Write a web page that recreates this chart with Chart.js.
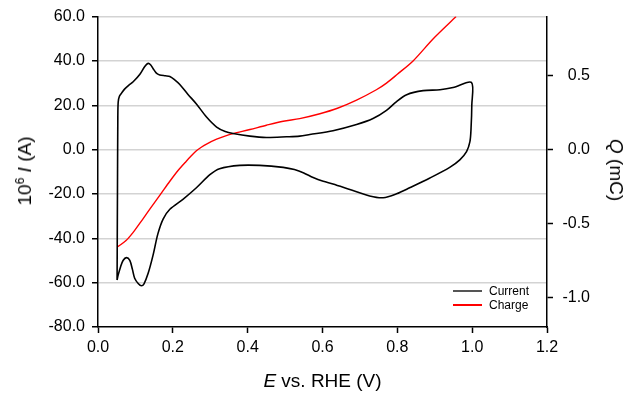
<!DOCTYPE html>
<html lang="en">
<head>
    <meta charset="UTF-8">
    <title>Cyclic voltammogram - current and charge</title>
    <style>
        body {
            margin: 0;
            padding: 0;
            background: #fff;
            font-family: 'Liberation Sans', Arial, sans-serif;
            color: #000;
        }
        .wrap {
            position: relative;
            width: 636px;
            height: 396px;
        }
        .title {
            position: absolute;
            font-size: 19px;
            line-height: 22px;
            white-space: nowrap;
        }
        .title sup {
            font-size: 12px;
            vertical-align: 7px;
            line-height: 0;
        }
        #xTitle {
            left: 98px;
            width: 449px;
            top: 370px;
            text-align: center;
        }
        #yTitle {
            left: 25px;
            top: 171px;
            transform: translate(-50%, -50%) rotate(-90deg);
        }
        #y2Title {
            left: 616px;
            top: 170px;
            transform: translate(-50%, -50%) rotate(90deg);
        }
        #legend {
            position: absolute;
            left: 453px;
            top: 284px;
            font-size: 12px;
            line-height: 14px;
        }
        .legend-row {
            display: flex;
            align-items: center;
        }
        .legend-line {
            display: inline-block;
            width: 29px;
            height: 1.5px;
            margin-right: 7px;
        }
    </style>
    <script src="https://cdn.jsdelivr.net/npm/chart.js"></script>
</head>
<body>
    <div class="wrap">
        <canvas id="cvChart" width="636" height="396"></canvas>
        <div class="title" id="xTitle"><i>E</i> vs. RHE (V)</div>
        <div class="title" id="yTitle">10<sup>6</sup> <i>I</i> (A)</div>
        <div class="title" id="y2Title"><i>Q</i> (mC)</div>
        <div id="legend"></div>
    </div>

    <script>
        // Current (black, left axis), one full cycle starting at the lower vertex
        const currentE = [0.051, 0.052, 0.053, 0.054, 0.057, 0.063, 0.071, 0.082, 0.094, 0.112, 0.125, 0.134,
            0.141, 0.147, 0.156, 0.165, 0.180, 0.192, 0.205, 0.218, 0.240, 0.263, 0.290, 0.317, 0.340,
            0.361, 0.406, 0.450, 0.504, 0.539, 0.566, 0.628, 0.691, 0.735, 0.771, 0.798, 0.825, 0.869,
            0.914, 0.949, 0.998,
            0.999, 0.997, 0.994, 0.985, 0.967, 0.940, 0.887, 0.833, 0.798, 0.762, 0.726, 0.673, 0.628,
            0.602, 0.575, 0.550, 0.525, 0.495, 0.432, 0.379, 0.325, 0.299, 0.263, 0.227, 0.192, 0.174,
            0.160, 0.147, 0.134, 0.123, 0.116, 0.108, 0.098, 0.092, 0.085, 0.076, 0.067, 0.060, 0.054, 0.051];
        const currentI = [-58.8, -20, 15, 21.5, 24, 25.5, 27.3, 29, 30.6, 34, 37.5, 38.9,
            38.2, 36.6, 34.5, 33.7, 33.3, 33, 31.5, 29.5, 25, 20.6, 14.7, 10.2, 8.2,
            7.3, 6.1, 5.5, 5.8, 6.1, 6.8, 8.5, 11.3, 14, 17.7, 21.7, 24.8, 26.6,
            27, 28, 30.3,
            20, 9.5, 3.6, -0.9, -4.6, -8, -12.8, -17.2, -19.9, -21.7, -20.9, -18, -15.5,
            -14.3, -12.6, -10.5, -9.0, -8, -7.1, -7.1, -8.6, -11.3, -17.2, -22.4, -26.9, -31.3,
            -38, -47.7, -55.8, -60.5, -61.4, -60.5, -58, -54, -50, -48.7, -50, -53, -56.5, -58.8];

        // Charge (red, right axis)
        const chargeE = [0.0535, 0.075, 0.094, 0.115, 0.138, 0.165, 0.192, 0.215, 0.236, 0.250, 0.263, 0.277,
            0.290, 0.317, 0.343, 0.361, 0.406, 0.450, 0.495, 0.539, 0.593, 0.640, 0.691, 0.744, 0.771,
            0.800, 0.842, 0.896, 0.957];
        const chargeQ = [-0.656, -0.615, -0.56, -0.487, -0.404, -0.31, -0.214, -0.138, -0.078, -0.040, -0.008, 0.018,
            0.038, 0.071, 0.095, 0.108, 0.136, 0.165, 0.192, 0.21, 0.243, 0.28, 0.335, 0.405, 0.45,
            0.51, 0.60, 0.75, 0.90];

        const xTicks = [0, 0.2, 0.4, 0.6, 0.8, 1.0, 1.2];
        const yTicks = [-80, -60, -40, -20, 0, 20, 40, 60];
        const y2Ticks = [-1.0, -0.5, 0.0, 0.5];

        const seriesNames = ['Current', 'Charge'];
        const seriesColors = ['#000000', '#ff0000'];
        const legendColors = ['#555555', '#ff0000'];

        const toPoints = (xs, ys) => xs.map((x, i) => ({ x: x, y: ys[i] }));

        const tickFont = { family: "'Liberation Sans', Arial, sans-serif", size: 16 };
        const fixTicks = list => scale => { scale.ticks = list.map(v => ({ value: v })); };

        const ctx = document.getElementById('cvChart').getContext('2d');
        const cvChart = new Chart(ctx, {
            type: 'scatter',
            data: {
                datasets: [{
                    label: seriesNames[0],
                    data: toPoints(currentE, currentI),
                    yAxisID: 'y',
                    showLine: true,
                    borderColor: seriesColors[0],
                    borderWidth: 1.6,
                    pointRadius: 0,
                    tension: 0.3
                }, {
                    label: seriesNames[1],
                    data: toPoints(chargeE, chargeQ),
                    yAxisID: 'y2',
                    showLine: true,
                    borderColor: seriesColors[1],
                    borderWidth: 1.4,
                    pointRadius: 0,
                    tension: 0.3
                }]
            },
            options: {
                responsive: false,
                devicePixelRatio: 1,
                animation: false,
                // right padding keeps the right tick labels right-aligned at x=590
                layout: { padding: { top: 13, left: 0, right: 46, bottom: 0 } },
                plugins: {
                    legend: { display: false },
                    tooltip: { enabled: false }
                },
                scales: {
                    x: {
                        type: 'linear',
                        min: 0,
                        max: 1.2,
                        afterBuildTicks: fixTicks(xTicks),
                        afterFit: scale => { scale.height = 69; },
                        ticks: {
                            font: tickFont,
                            color: '#000',
                            padding: 5,
                            maxRotation: 0,
                            callback: v => Number(v).toFixed(1)
                        },
                        grid: {
                            drawOnChartArea: false,
                            tickLength: 6,
                            tickColor: '#000',
                            tickWidth: 1.5
                        },
                        border: { color: '#000', width: 1.5 }
                    },
                    y: {
                        position: 'left',
                        min: -80,
                        max: 60,
                        afterBuildTicks: fixTicks(yTicks),
                        afterFit: scale => { scale.width = 98; },
                        ticks: {
                            font: tickFont,
                            color: '#000',
                            padding: 7,
                            callback: v => Number(v).toFixed(1)
                        },
                        grid: {
                            color: c => (c.tick && c.tick.value === -80) ? 'rgba(0,0,0,0)' : '#d3d3d3',
                            lineWidth: 1.5,
                            tickLength: 6,
                            tickColor: '#000',
                            tickWidth: 1.5
                        },
                        border: { color: '#000', width: 1.5 }
                    },
                    y2: {
                        position: 'right',
                        min: -1.2,
                        max: 0.9,
                        afterBuildTicks: fixTicks(y2Ticks),
                        afterFit: scale => { scale.width = 43; },
                        ticks: {
                            font: tickFont,
                            color: '#000',
                            padding: 7,
                            crossAlign: 'far',
                            callback: v => Number(v).toFixed(1)
                        },
                        grid: {
                            drawOnChartArea: false,
                            tickLength: 6,
                            tickColor: '#000',
                            tickWidth: 1.5
                        },
                        border: { color: '#000', width: 1.5 }
                    }
                }
            }
        });

        // Legend inside the plot, bottom right
        const legend = document.getElementById('legend');
        seriesNames.forEach((name, i) => {
            const row = document.createElement('div');
            row.className = 'legend-row';
            const line = document.createElement('span');
            line.className = 'legend-line';
            line.style.backgroundColor = legendColors[i];
            const text = document.createElement('span');
            text.textContent = name;
            row.appendChild(line);
            row.appendChild(text);
            legend.appendChild(row);
        });
    </script>
</body>
</html>
